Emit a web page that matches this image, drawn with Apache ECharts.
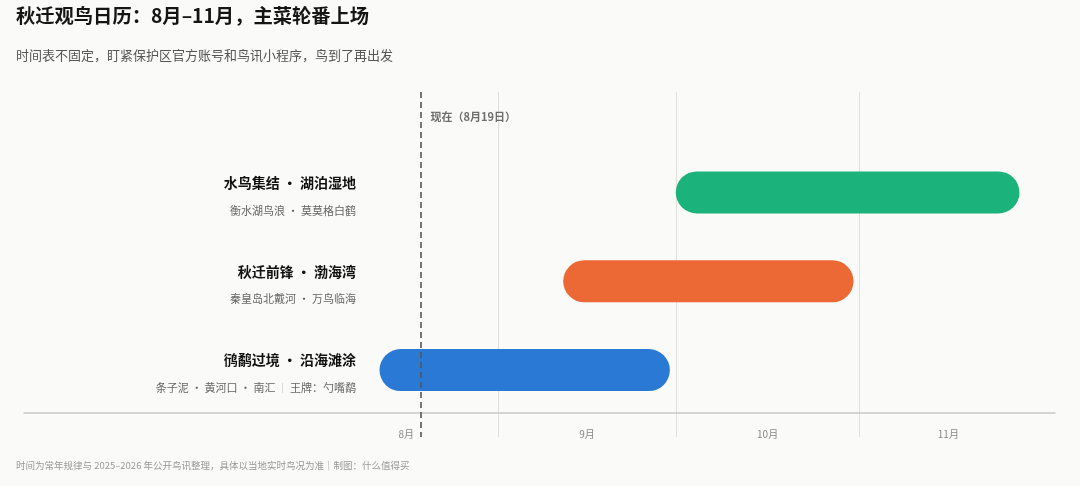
<!DOCTYPE html>
<html>
<head>
<meta charset="utf-8">
<script src="https://cdn.jsdelivr.net/npm/echarts@6/dist/echarts.min.js"></script>
<style>
  html, body { margin: 0; padding: 0; background: #fafaf8; }
  #chart { width: 1080px; height: 486px; }
</style>
</head>
<body>
<div id="chart"></div>
<script>
// ---- data ----
const categories = ['水鸟集结 · 湖泊湿地', '秋迁前锋 · 渤海湾', '鸻鹬过境 · 沿海滩涂'];
const subLabels = ['衡水湖鸟浪 · 莫莫格白鹤', '秦皇岛北戴河 · 万鸟临海', '条子泥 · 黄河口 · 南汇 | 王牌：勺嘴鹬'];
const startDates = ['10-01', '09-12', '08-12'];
const endDates = ['11-28', '10-31', '09-30'];
const barColors = ['#1cb27b', '#ec6834', '#2979d5'];
const nowDate = '08-19';
const nowLabel = '现在（8月19日）';
const monthLabels = ['8月', '9月', '10月', '11月'];
const monthStartDay = [0, 31, 61, 92];
const monthLength = [31, 30, 31, 30];

const titleText = '秋迁观鸟日历：8月–11月，主菜轮番上场';
const subtitleText = '时间表不固定，盯紧保护区官方账号和鸟讯小程序，鸟到了再出发';
const footerText = '时间为常年规律与 2025–2026 年公开鸟讯整理，具体以当地实时鸟况为准｜制图：什么值得买';

// ---- helpers ----
function dayOffset(md) {
  const [m, d] = md.split('-').map(Number);
  return monthStartDay[m - 8] + d - 1;
}
const startVals = startDates.map(dayOffset);
const durVals = endDates.map((e, i) => dayOffset(e) - startVals[i]);
const labelPos = monthStartDay.map((s, i) => s + monthLength[i] / 2);
const boundaries = monthStartDay.slice(1);
const nowVal = dayOffset(nowDate);

const X_MIN = -49, X_MAX = 125;
const FONT = '"Noto Sans CJK SC", "Noto Sans", sans-serif';

function subRich(s) {
  return s.split(' | ').map(p => `{s|${p}}`).join('{p| ｜ }');
}

const chart = echarts.init(document.getElementById('chart'), null, { renderer: 'canvas' });
chart.setOption({
  backgroundColor: '#fafaf8',
  animation: false,
  textStyle: { fontFamily: FONT },
  title: [
    { text: titleText, left: 11, top: 1, textStyle: { fontSize: 19.3, fontWeight: 'bold', color: '#151515', fontFamily: FONT } },
    { text: subtitleText, left: 11, top: 44, textStyle: { fontSize: 13, fontWeight: 'normal', color: '#555', fontFamily: FONT } },
    { text: footerText, left: 11, top: 456, textStyle: { fontSize: 9.5, fontWeight: 'normal', color: '#999', fontFamily: FONT } }
  ],
  grid: [
    { left: 24, right: 25, top: 92, bottom: 49 },
    { left: 24, right: 25, top: 148, bottom: 71.5 }
  ],
  xAxis: [
    { gridIndex: 0, type: 'value', min: X_MIN, max: X_MAX, show: false },
    {
      gridIndex: 1, type: 'value', min: X_MIN, max: X_MAX, offset: -2,
      axisLine: { show: true, onZero: false, lineStyle: { color: '#c8c8c2', width: 1.5 } },
      axisTick: { show: false },
      splitLine: { show: false },
      axisLabel: {
        customValues: labelPos,
        formatter: v => { const i = labelPos.indexOf(v); return i >= 0 ? monthLabels[i] : ''; },
        color: '#888', fontSize: 10, margin: 17, fontFamily: FONT
      }
    }
  ],
  yAxis: [
    { gridIndex: 0, type: 'value', min: 0, max: 1, inverse: true, show: false },
    {
      gridIndex: 1, type: 'category', data: categories, inverse: true,
      axisLine: { show: false }, axisTick: { show: false }, splitLine: { show: false },
      axisLabel: {
        margin: -332,
        formatter: (v, i) => `{t|${v}}\n${subRich(subLabels[i])}`,
        rich: {
          t: { fontSize: 14, fontWeight: 'bold', color: '#111', lineHeight: 36, fontFamily: FONT },
          s: { fontSize: 11, color: '#666', lineHeight: 20, fontFamily: FONT },
          p: { fontSize: 10, color: '#b5b5b0', lineHeight: 20, fontFamily: FONT }
        }
      }
    }
  ],
  series: [
    {
      type: 'scatter', xAxisIndex: 0, yAxisIndex: 0, data: [], z: 0, silent: true,
      markLine: {
        z: 0, silent: true, symbol: 'none', label: { show: false },
        lineStyle: { type: 'solid', color: '#e0e0db', width: 1 },
        data: boundaries.map(b => ({ xAxis: b }))
      }
    },
    {
      type: 'bar', xAxisIndex: 1, yAxisIndex: 1, stack: 'span', barWidth: 42,
      itemStyle: { color: 'transparent' }, silent: true, z: 2,
      data: startVals
    },
    {
      type: 'bar', xAxisIndex: 1, yAxisIndex: 1, stack: 'span', barWidth: 42, z: 2,
      itemStyle: { borderRadius: 21 },
      data: durVals.map((d, i) => ({ value: d, itemStyle: { color: barColors[i], borderRadius: 21 } }))
    },
    {
      type: 'scatter', xAxisIndex: 0, yAxisIndex: 0, z: 10, silent: true,
      symbolSize: 1, itemStyle: { color: 'transparent' },
      data: [[nowVal, 0.0725]],
      label: {
        show: true, position: 'right', distance: 9, formatter: nowLabel,
        fontSize: 11, fontWeight: 'bold', color: '#4a4a4a', fontFamily: FONT
      },
      markLine: {
        z: 10, silent: true, symbol: 'none', label: { show: false },
        lineStyle: { type: [6, 4], color: '#555', width: 1.6 },
        data: [{ xAxis: nowVal }]
      }
    }
  ]
});
</script>
</body>
</html>
